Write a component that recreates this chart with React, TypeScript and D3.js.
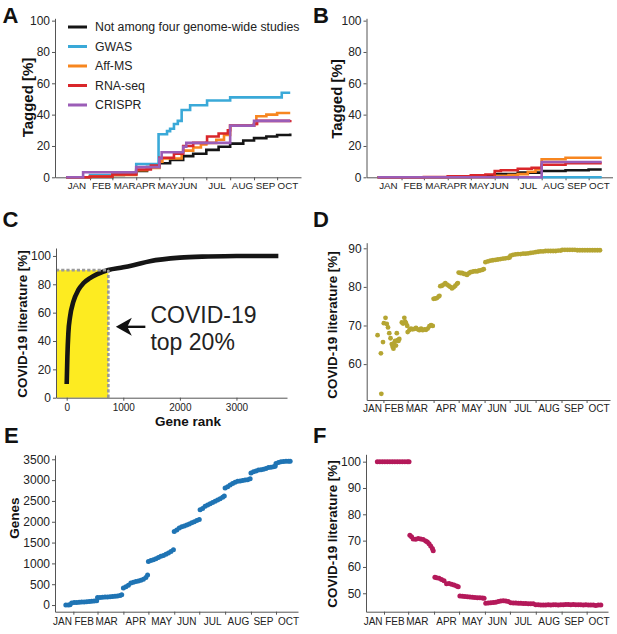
import * as d3 from "d3";
import { useEffect, useRef } from "react";

const W = 617;
const H = 634;
const FONT = "'Liberation Sans', Arial, Helvetica, sans-serif";

// days counted from Jan 1 2020 (= 0)
const monthStarts = [31, 60, 91, 121, 152, 182, 213, 244, 274];
const monthNames = ["JAN", "FEB", "MAR", "APR", "MAY", "JUN", "JUL", "AUG", "SEP", "OCT"];
const taggedLabelDays = [14, 46, 76, 103, 132, 158, 196, 229, 259, 288];
const datedLabelDays = [18, 44, 71, 106, 137, 167, 198, 229, 259, 289];

const seriesNames = ["Not among four genome-wide studies", "GWAS", "Aff-MS", "RNA-seq", "CRISPR"];
const seriesColors = ["#151515", "#3aa9d8", "#f7861f", "#d9262a", "#9b5db7"];
const drawOrder = [0, 1, 2, 3, 4];

// panel A: tagged genes [%] (day, value), step curves
const otherA = [[0, 0], [31, 0.3], [60, 1.5], [75, 2.5], [91, 4], [105, 6.5], [121, 9], [135, 11], [152, 13.5], [165, 15], [182, 17.5], [198, 19.5], [213, 21.5], [230, 23.5], [244, 25], [260, 26], [274, 27], [291, 28]];
const gwasA = [[0, 0], [31, 1.5], [60, 2], [91, 8.5], [120, 27.5], [131, 29.5], [135, 31], [140, 34], [145, 36], [150, 43], [161, 46], [183, 49], [213, 51], [280, 54], [291, 54]];
const affmsA = [[0, 0], [31, 0.5], [60, 1.5], [91, 4.5], [105, 6], [121, 10], [125, 12], [150, 16], [152, 17], [165, 19], [175, 21], [182, 22], [195, 24], [205, 27], [213, 33], [244, 34], [247, 39], [260, 40], [274, 41], [291, 41]];
const rnaseqA = [[0, 0], [31, 0.5], [60, 1.8], [91, 5], [110, 7.5], [121, 12.5], [140, 15], [152, 20], [165, 22], [183, 26], [198, 28], [210, 30], [213, 33], [244, 34], [248, 36], [291, 36.5]];
const crisprA = [[0, 0], [22, 3.2], [91, 6.5], [121, 12], [124, 16], [152, 19.5], [156, 22], [213, 33], [244, 36], [291, 36]];

// panel B
const otherB = [[0, 0], [121, 0.5], [135, 1], [152, 2], [182, 3], [213, 4], [244, 4.5], [274, 5], [291, 5]];
const gwasB = [[0, 0], [291, 0]];
const affmsB = [[0, 0], [152, 1], [170, 1.5], [182, 2], [195, 3.5], [205, 5], [213, 11.5], [244, 12.5], [291, 12.5]];
const rnaseqB = [[0, 0], [60, 0.2], [91, 0.7], [121, 1.3], [140, 1.8], [152, 4], [160, 4.5], [182, 5.5], [200, 6], [213, 8], [244, 9], [291, 9]];
const crisprB = [[0, 0], [213, 9.8], [291, 9.8]];

// panel C: cumulative COVID-19 literature by gene rank
const rankC = [0, 12, 29, 59, 118, 206, 294, 412, 530, 736, 1000, 1176, 1470, 2000, 2500, 3000, 3740];
const litC = [9.7, 29, 45.4, 57, 67.7, 76, 80.7, 84.3, 87, 90.1, 92, 93.5, 96.3, 98.8, 99.6, 100, 100];
const topRank = 736;
const topLit = 90;

// panel D: COVID-19 literature [%] covered over time
const litD = [[24, 67.5], [28, 62.8], [28.5, 52.3], [30.5, 65.7], [31.5, 70.6], [33.5, 72], [35, 70.4], [36.5, 69.5], [38, 68], [39.5, 66.7], [41, 65.2], [42, 64.5], [43, 64], [44, 65.5], [45, 66], [46, 64.8], [47, 68], [48, 66.2], [49, 66], [50, 66.5], [53, 70.8], [54.5, 70.5], [56, 72], [57, 71], [58, 70.6], [59.5, 69.9],
  [60, 68.3], [62, 68.8], [64, 69.2], [66, 69], [68, 69.1], [70, 69.4], [72, 69], [74, 68.8], [76, 69.2], [78, 68.8], [80, 69], [82, 68.9], [84, 69.2], [86, 69.8], [88, 70.1], [90, 69.9],
  [91, 76.9], [93, 77], [95, 77.1], [97, 77.5], [98, 77.7], [99, 80.2], [101, 80.3], [103, 80.6], [105, 81], [107, 80.6], [109, 80.3], [111, 80], [113, 79.6], [115, 79.9], [117, 80.3], [119, 80.8], [120, 81],
  [121, 83.7], [123, 83.6], [125, 83.6], [127, 83.4], [129, 83.3], [131, 83.1], [133, 83.5], [135, 83.8], [137, 83.9], [139, 84], [141, 84.1], [143, 84], [145, 84.2], [147, 84.3], [149, 84.4], [151, 84.6],
  [153, 86.4], [156, 86.6], [159, 86.8], [162, 86.9], [165, 87], [168, 87.1], [171, 87.2], [174, 87.3], [177, 87.4], [180, 87.5], [182, 87.6], [183, 88.1], [186, 88.3], [189, 88.4], [192, 88.5], [195, 88.5], [198, 88.6], [201, 88.6], [204, 88.7], [207, 88.8], [210, 88.9],
  [213, 89], [216, 89.1], [219, 89.2], [222, 89.2], [225, 89.3], [228, 89.3], [231, 89.3], [234, 89.3], [237, 89.3], [240, 89.4], [243, 89.4], [245, 89.6], [248, 89.6], [251, 89.6], [254, 89.6], [257, 89.6], [260, 89.6], [263, 89.5], [266, 89.5], [269, 89.5], [272, 89.5], [275, 89.5], [278, 89.5], [281, 89.5], [284, 89.5], [287, 89.5], [290, 89.5]];

// panel E: genes with COVID-19 literature
const genesE = [[22, 0], [25, 0], [27, 5], [29, 50], [32, 58], [35, 62], [38, 66], [41, 70], [44, 74], [47, 80], [50, 86], [53, 92], [56, 98], [59, 104],
  [60, 180], [63, 184], [66, 188], [69, 192], [72, 196], [75, 200], [78, 206], [81, 212], [84, 220], [87, 232], [89, 245],
  [91, 410], [94, 440], [97, 475], [100, 530], [103, 550], [106, 565], [109, 580], [112, 595], [115, 620], [118, 660], [120, 720],
  [121, 1045], [124, 1070], [127, 1090], [130, 1110], [133, 1140], [136, 1170], [139, 1190], [142, 1220], [145, 1250], [148, 1285], [151, 1325],
  [152, 1765], [155, 1800], [158, 1850], [161, 1880], [164, 1900], [167, 1920], [170, 1945], [173, 1975], [176, 2000], [179, 2030], [182, 2055],
  [183, 2290], [186, 2320], [189, 2370], [192, 2400], [195, 2430], [198, 2460], [201, 2490], [204, 2520], [207, 2550], [210, 2590], [212, 2620],
  [213, 2810], [216, 2840], [219, 2880], [222, 2920], [225, 2950], [228, 2970], [231, 2980], [234, 2990], [237, 3000], [240, 3010], [243, 3030],
  [244, 3170], [247, 3200], [250, 3220], [253, 3240], [256, 3250], [259, 3260], [262, 3280], [265, 3300], [268, 3310], [271, 3320], [273, 3335],
  [274, 3400], [277, 3420], [280, 3440], [283, 3445], [286, 3450], [289, 3450], [291, 3450]];

// panel F: share of literature on COVID-19 genes [%]
const litF = [[23, 100], [26, 100], [29, 100], [32, 100], [35, 100], [38, 100], [41, 100], [44, 100], [47, 100], [50, 100], [53, 100], [56, 100], [59, 100], [61, 100],
  [62, 72], [64, 71.5], [66, 70.6], [69, 70.5], [72, 70.8], [75, 70.6], [78, 70.4], [81, 69.9], [83, 69.5], [85, 68.8], [87, 68], [89, 67], [90, 66.2],
  [92, 56.1], [94, 55.9], [97, 55.7], [100, 55.2], [103, 54.8], [106, 53.6], [109, 53.7], [112, 53.4], [115, 53.1], [118, 52.8], [120, 52.5],
  [122, 49], [125, 48.9], [128, 48.8], [131, 48.7], [134, 48.6], [137, 48.5], [140, 48.4], [143, 48.3], [146, 48.3], [149, 48.2], [151, 48.1],
  [153, 46.2], [156, 46.3], [159, 46.4], [162, 46.5], [165, 46.6], [168, 46.9], [171, 47.1], [174, 47.2], [177, 47.1], [180, 46.9],
  [183, 46.4], [186, 46.3], [189, 46.3], [192, 46.2], [195, 46.2], [198, 46.1], [201, 46.1], [204, 46], [207, 46], [210, 46],
  [213, 45.6], [216, 45.6], [219, 45.5], [222, 45.5], [225, 45.5], [228, 45.6], [231, 45.5], [234, 45.6], [237, 45.6], [240, 45.5], [243, 45.6],
  [246, 45.6], [249, 45.7], [252, 45.7], [255, 45.6], [258, 45.7], [261, 45.6], [264, 45.6], [267, 45.6], [270, 45.5], [273, 45.6],
  [276, 45.5], [279, 45.5], [282, 45.5], [285, 45.4], [288, 45.5], [291, 45.5]];

type Sel = d3.Selection<any, unknown, null, undefined>;

const styleAxis = (ax: Sel, fontSize: number) => {
  ax.attr("font-family", FONT).attr("font-size", fontSize);
  ax.select(".domain").attr("stroke", "#555").attr("stroke-width", 1);
  ax.selectAll(".tick line").attr("stroke", "#555");
  ax.selectAll(".tick text").attr("fill", "#222");
};

const panelLetter = (svg: Sel, t: string, x: number, y: number) =>
  svg.append("text").attr("x", x).attr("y", y).text(t)
    .attr("font-family", FONT).attr("font-weight", "bold").attr("font-size", 22).attr("fill", "#111");

const yLabel = (svg: Sel, t: string, x: number, y: number, size: number) =>
  svg.append("text").attr("transform", `translate(${x},${y}) rotate(-90)`)
    .attr("text-anchor", "middle").attr("font-family", FONT).attr("font-weight", "bold")
    .attr("font-size", size).attr("fill", "#111").text(t);

const monthAxis = (svg: Sel, x: d3.ScaleLinear<number, number>, y0: number, labelDays: number[], labelY: number, fontSize: number) => {
  const ax = svg.append("g").attr("transform", `translate(0,${y0})`)
    .call(d3.axisBottom(x).tickValues(monthStarts).tickFormat(() => "").tickSize(3).tickSizeOuter(0));
  styleAxis(ax, fontSize);
  svg.append("g").selectAll("text").data(monthNames).join("text")
    .attr("x", (_, i) => x(labelDays[i])).attr("y", labelY)
    .attr("text-anchor", "middle").attr("font-family", FONT).attr("font-size", fontSize)
    .attr("fill", "#222").text((d) => d);
};

const drawTagged = (svg: Sel, dx: number, series: number[][][], legend: boolean) => {
  const x = d3.scaleLinear().domain([-14.5, 305]).range([55 + dx, 301 + dx]);
  const y = d3.scaleLinear().domain([0, 101.5]).range([177.3, 18.3]);
  const line = d3.line<number[]>().curve(d3.curveStepAfter).x((d) => x(d[0])).y((d) => y(d[1]));

  const ay = svg.append("g").attr("transform", `translate(${x.range()[0]},0)`)
    .call(d3.axisLeft(y).tickValues([0, 20, 40, 60, 80, 100]).tickSize(3).tickPadding(2).tickSizeOuter(0));
  styleAxis(ay, 12);
  monthAxis(svg, x, y(0), taggedLabelDays, 188.5, 9.8);

  drawOrder.forEach((i) => {
    svg.append("path").attr("d", line(series[i]) as string).attr("fill", "none")
      .attr("stroke", seriesColors[i]).attr("stroke-width", 2.6);
  });

  if (legend) {
    const lg = svg.append("g");
    seriesNames.forEach((name, i) => {
      const ry = 27 + i * 19.5;
      lg.append("line").attr("x1", 68).attr("x2", 87).attr("y1", ry).attr("y2", ry)
        .attr("stroke", seriesColors[i]).attr("stroke-width", 3);
      lg.append("text").attr("x", 95).attr("y", ry + 4.2).attr("font-family", FONT)
        .attr("font-size", 12.3).attr("fill", "#222").text(name);
    });
  }
};

const drawRank = (svg: Sel) => {
  const x = d3.scaleLinear().domain([-189, 3893]).range([56, 287]);
  const y = d3.scaleLinear().domain([0, 105.6]).range([397.7, 248]);

  svg.append("rect").attr("x", x.range()[0]).attr("y", y(topLit))
    .attr("width", x(topRank) - x.range()[0]).attr("height", y(0) - y(topLit)).attr("fill", "#fdeb21");

  const pts = rankC.map((r, i) => [r, litC[i]]);
  svg.append("path").attr("d", d3.line<number[]>().curve(d3.curveMonotoneX).x((d) => x(d[0])).y((d) => y(d[1]))(pts) as string)
    .attr("fill", "none").attr("stroke", "#151515").attr("stroke-width", 4.6);

  const dash = svg.append("g").attr("stroke", "#9a9a9a").attr("stroke-width", 2.6).attr("stroke-dasharray", "3.2,2");
  dash.append("line").attr("x1", x.range()[0]).attr("x2", x(topRank)).attr("y1", y(topLit)).attr("y2", y(topLit));
  dash.append("line").attr("x1", x(topRank)).attr("x2", x(topRank)).attr("y1", y(0)).attr("y2", y(topLit));

  const ay = svg.append("g").attr("transform", `translate(${x.range()[0]},0)`)
    .call(d3.axisLeft(y).tickValues([0, 20, 40, 60, 80, 100]).tickSize(3).tickPadding(2).tickSizeOuter(0));
  styleAxis(ay, 12);
  const ax = svg.append("g").attr("transform", `translate(0,${y(0)})`)
    .call(d3.axisBottom(x).tickValues([0, 1000, 2000, 3000]).tickFormat(d3.format("d")).tickSize(3).tickPadding(3).tickSizeOuter(0));
  styleAxis(ax, 10);

  // arrow + annotation
  const ay0 = y(50);
  const tip = x(topRank) + 7.5;
  svg.append("line").attr("x1", tip + 11).attr("x2", tip + 29.5).attr("y1", ay0).attr("y2", ay0)
    .attr("stroke", "#111").attr("stroke-width", 2.4);
  svg.append("path").attr("d", `M${tip},${ay0} L${tip + 16},${ay0 - 9} L${tip + 11.5},${ay0} L${tip + 16},${ay0 + 9} Z`).attr("fill", "#111");
  const ann = svg.append("g").attr("font-family", FONT).attr("font-size", 23).attr("fill", "#222");
  ann.append("text").attr("x", x(1480)).attr("y", y(53)).text("COVID-19");
  ann.append("text").attr("x", x(1480)).attr("y", y(34)).text("top 20%");

  svg.append("text").attr("x", 188).attr("y", 426).attr("text-anchor", "middle")
    .attr("font-family", FONT).attr("font-weight", "bold").attr("font-size", 13.5).attr("fill", "#111").text("Gene rank");
};

const drawDated = (svg: Sel, data: number[][], xr: [number, number], xd: [number, number], yr: [number, number], yd: [number, number],
  yTicks: number[], labelY: number, color: string, r: number) => {
  const x = d3.scaleLinear().domain(xd).range(xr);
  const y = d3.scaleLinear().domain(yd).range(yr);
  svg.append("g").selectAll("circle").data(data).join("circle")
    .attr("cx", (d) => x(d[0])).attr("cy", (d) => y(d[1])).attr("r", r).attr("fill", color);
  const ay = svg.append("g").attr("transform", `translate(${xr[0]},0)`)
    .call(d3.axisLeft(y).tickValues(yTicks).tickFormat(d3.format("d")).tickSize(3).tickPadding(2).tickSizeOuter(0));
  styleAxis(ay, 12);
  monthAxis(svg, x, yr[0], datedLabelDays, labelY, 10);
};

export default function App() {
  const ref = useRef<SVGSVGElement | null>(null);

  useEffect(() => {
    const svg = d3.select(ref.current) as Sel;
    svg.selectAll("*").remove();

    drawTagged(svg, 0, [otherA, gwasA, affmsA, rnaseqA, crisprA], true);
    drawTagged(svg, 311.5, [otherB, gwasB, affmsB, rnaseqB, crisprB], false);
    drawRank(svg);
    drawDated(svg, litD, [366.7, 610], [11, 302], [400, 242.7], [50.7, 91.45], [60, 70, 80, 90], 411.7, "#b5a532", 2.4);
    drawDated(svg, genesE, [55, 298], [9, 300.4], [611.7, 455], [-160, 3603], [0, 500, 1000, 1500, 2000, 2500, 3000, 3500], 625, "#1f74b4", 2.5);
    drawDated(svg, litF, [366, 608], [9.4, 299.6], [611.7, 454.3], [43, 102.8], [50, 60, 70, 80, 90, 100], 625, "#b4195a", 2.5);

    panelLetter(svg, "A", 2.5, 23.3);
    panelLetter(svg, "B", 313, 23.3);
    panelLetter(svg, "C", 2.5, 226.7);
    panelLetter(svg, "D", 313, 226.7);
    panelLetter(svg, "E", 4, 443.3);
    panelLetter(svg, "F", 313, 443.3);

    yLabel(svg, "Tagged [%]", 32.5, 97.5, 15);
    yLabel(svg, "Tagged [%]", 342, 99, 15);
    yLabel(svg, "COVID-19 literature [%]", 26.5, 324, 13.4);
    yLabel(svg, "COVID-19 literature [%]", 336.5, 325, 13.4);
    yLabel(svg, "Genes", 19, 518, 13.5);
    yLabel(svg, "COVID-19 literature [%]", 337, 534, 13.4);
  }, []);

  return (
    <svg ref={ref} width={W} height={H}
      style={{ position: "absolute", left: 0, top: 0, background: "#fff" }} />
  );
}
